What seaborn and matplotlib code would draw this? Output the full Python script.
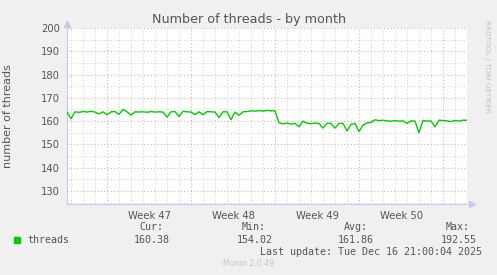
import numpy as np
import pandas as pd
import matplotlib
matplotlib.use("Agg")
import matplotlib.pyplot as plt
import seaborn as sns

# ---- data ----
# days relative to Monday of Week 47, one sample every 8 hours
threads = [
    164.0, 161.0, 164.0, 163.8, 164.1, 163.9, 164.2, 163.9, 163.1, 164.0,
    162.7, 164.0, 164.1, 162.9, 165.0, 164.0, 162.6, 164.0, 163.9, 164.0,
    163.8, 164.1, 163.9, 164.0, 163.9, 161.7, 164.0, 164.1, 162.0, 164.2,
    164.0, 163.9, 162.8, 164.0, 162.7, 164.1, 164.0, 163.9, 161.5, 164.0,
    164.0, 160.6, 163.9, 162.5, 164.0, 164.1, 164.4, 164.3, 164.5, 164.3,
    164.6, 164.4, 164.4, 159.3, 158.8, 159.2, 158.7, 159.0, 157.6, 160.0,
    159.1, 158.9, 159.2, 159.0, 157.0, 159.1, 159.0, 157.0, 159.0, 159.0,
    155.8, 158.6, 159.0, 155.5, 158.3, 159.2, 159.5, 160.6, 160.2, 160.4,
    160.1, 160.0, 160.2, 160.0, 160.1, 159.0, 160.1, 160.0, 155.0, 160.3,
    160.0, 160.1, 157.5, 160.4, 160.3, 160.1, 159.8, 160.3, 160.0, 160.4,
    160.38,
]
start_day = -10 / 3
days = [start_day + i / 3 for i in range(len(threads))]
week_labels = ["Week 47", "Week 48", "Week 49", "Week 50"]
week_centers = [3.5, 10.5, 17.5, 24.5]
week_starts = [0, 7, 14, 21, 28]
y_ticks = [130, 140, 150, 160, 170, 180, 190, 200]
stat_names = ["Cur:", "Min:", "Avg:", "Max:"]
stat_values = ["160.38", "154.02", "161.86", "192.55"]

df = pd.DataFrame({"day": days, "threads": threads})

sns.set_style("white")
plt.rcParams["font.family"] = ["DejaVu Sans"]

W, H = 497, 275
fig = plt.figure(figsize=(W / 100, H / 100), dpi=100, facecolor="#F0F0F0")

def fx(px):
    return px / W

def fy(py):
    return 1 - py / H

ax = fig.add_axes([fx(67), fy(204), 400 / W, 176 / H])
ax.set_facecolor("white")

x0, x1 = start_day, 30
y0, y1 = 124.4, 200
ax.set_xlim(x0, x1)
ax.set_ylim(y0, y1)

# grid
minor_c = "#d4d4d4"
major_c = "#eaaaaa"
for d in range(-3, 31):
    if d in week_starts:
        continue
    ax.axvline(d, color=minor_c, lw=0.8, ls=(0, (1, 2)), zorder=1)
for d in week_starts:
    ax.axvline(d, color=major_c, lw=0.8, ls=(0, (1, 2)), zorder=1)
for v in range(125, 200, 10):
    ax.axhline(v, color=minor_c, lw=0.8, ls=(0, (1, 2)), zorder=1)
for v in y_ticks:
    ax.axhline(v, color=major_c, lw=0.8, ls=(0, (1, 2)), zorder=1)

sns.lineplot(data=df, x="day", y="threads", ax=ax, color="#00CC00",
             lw=1.0, zorder=3, legend=False)

for s in ["top", "right"]:
    ax.spines[s].set_visible(False)
for s in ["left", "bottom"]:
    ax.spines[s].set_color("#c8c8f0")
    ax.spines[s].set_linewidth(0.8)

ax.set_yticks(y_ticks)
ax.set_yticklabels([str(v) for v in y_ticks])
ax.set_xticks(week_centers)
ax.set_xticklabels(week_labels)
ax.tick_params(axis="y", length=2, width=0.6, color="#bbbbbb", pad=3,
               labelsize=7.2, labelcolor="#555555")
ax.tick_params(axis="x", length=0, pad=5, labelsize=7.2, labelcolor="#555555")
ax.set_xlabel("")
ax.set_ylabel("number of threads", fontsize=8.0, color="#555555", labelpad=6)
ax.yaxis.set_label_coords(-0.135, 0.5)

# axis arrows
ax.plot([0], [1.025], marker="^", ms=4, color="#c8c8f0", transform=ax.transAxes,
        clip_on=False, zorder=5)
ax.plot([1.012], [0], marker=">", ms=4, color="#c8c8f0", transform=ax.transAxes,
        clip_on=False, zorder=5)

fig.text(fx(249), fy(19), "Number of threads - by month", ha="center",
         va="center", fontsize=9.2, color="#555555")
fig.text(fx(487), fy(20), "RRDTOOL / TOBI OETIKER", rotation=270, ha="center",
         va="top", fontsize=5.2, color="#c0c0c0")

mono = "DejaVu Sans Mono"
fig.patches.append(plt.Rectangle((fx(14), fy(243)), 6 / W, 6 / H,
                                 transform=fig.transFigure, color="#00CC00"))
fig.text(fx(27), fy(240), "threads", ha="left", va="center", family=mono,
         fontsize=7.2, color="#555555")
name_x = [163, 266, 368, 470]
val_x = [170, 273, 374, 477]
for n, nx, v, vx in zip(stat_names, name_x, stat_values, val_x):
    fig.text(fx(nx), fy(227), n, ha="right", va="center", family=mono,
             fontsize=7.2, color="#555555")
    fig.text(fx(vx), fy(240), v, ha="right", va="center", family=mono,
             fontsize=7.2, color="#555555")
fig.text(fx(482), fy(252), "Last update: Tue Dec 16 21:00:04 2025", ha="right",
         va="center", family=mono, fontsize=7.2, color="#555555")
fig.text(fx(249), fy(264), "Munin 2.0.49", ha="center", va="center",
         fontsize=5.6, color="#c8c8c8")

fig.savefig("out.png", dpi=100, facecolor=fig.get_facecolor())
